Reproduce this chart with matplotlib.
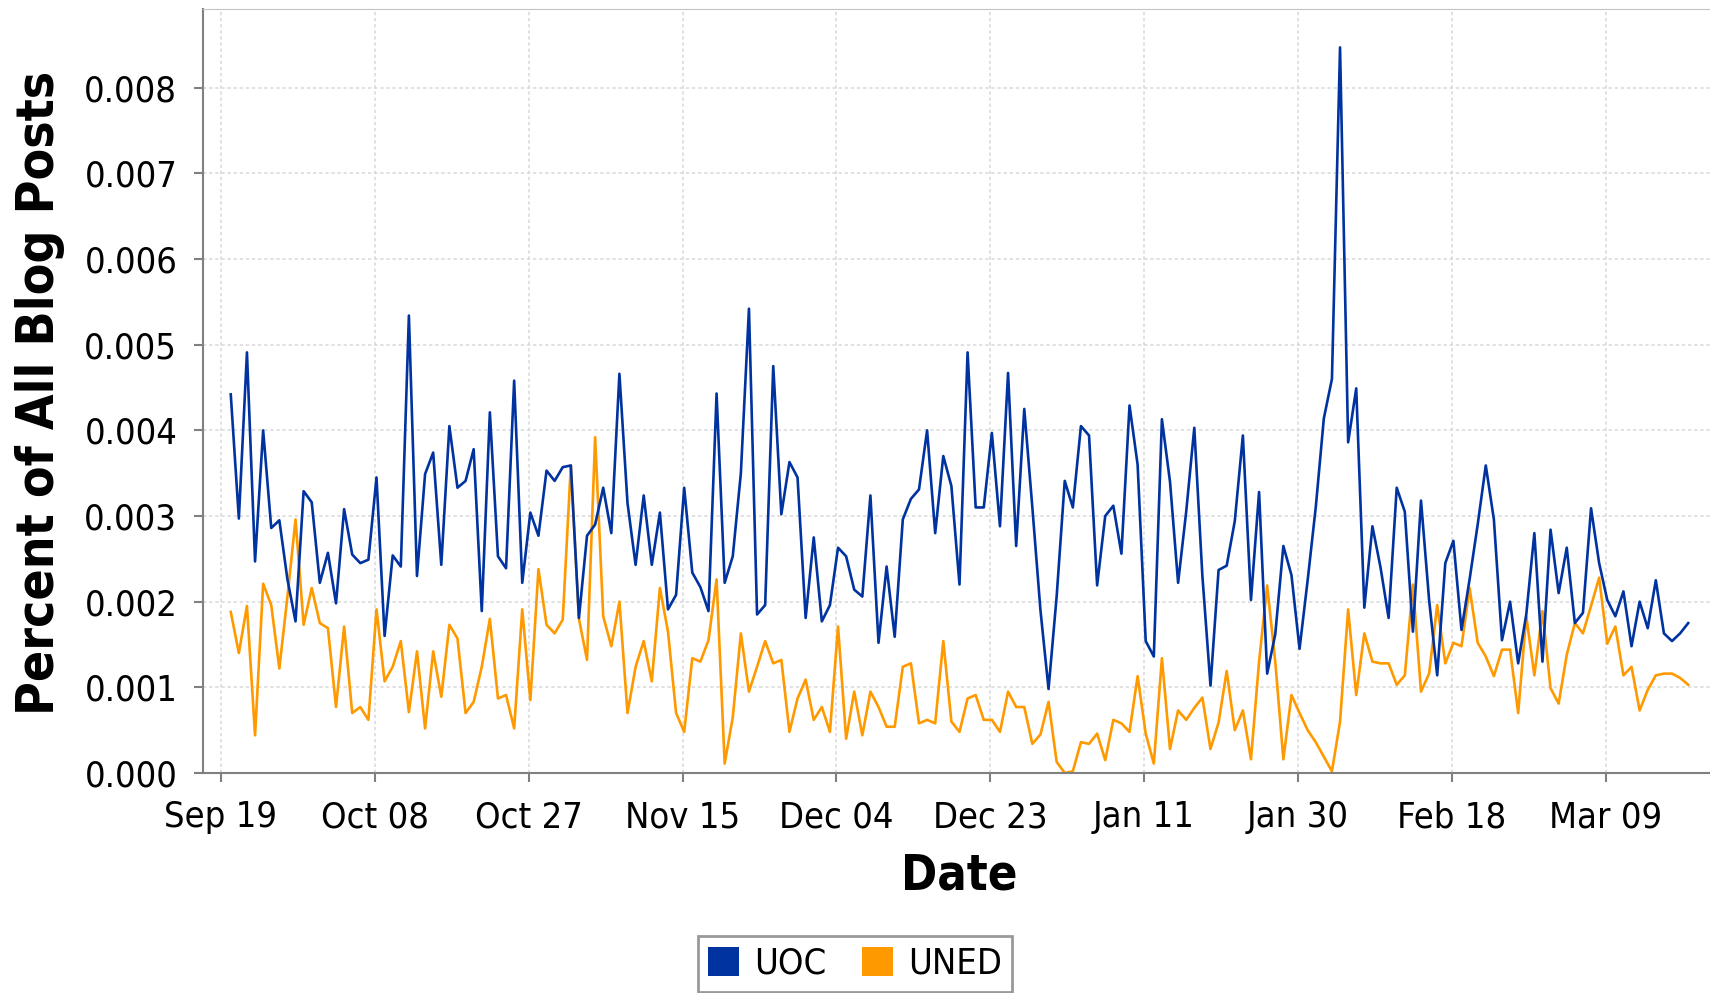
import os
import matplotlib
matplotlib.use('Agg')
import matplotlib.pyplot as plt
import matplotlib.dates as mdates
import matplotlib.patches as mpatches
from matplotlib import font_manager as fm
import numpy as np
import pandas as pd

# daily values, in units of 0.001 (percent of all blog posts)
uoc = [4.42, 2.97, 4.91, 2.47, 4.00, 2.86, 2.95, 2.26, 1.77, 3.29, 3.16, 2.22, 2.57, 1.98, 3.08, 2.55,
       2.45, 2.49, 3.45, 1.60, 2.54, 2.41,
       5.34, 2.30, 3.49, 3.74, 2.43, 4.05, 3.33, 3.41, 3.78, 1.89, 4.21, 2.53, 2.39, 4.58, 2.22, 3.04,
       2.77, 3.53, 3.41, 3.57, 3.59, 1.81, 2.77,
       2.90, 3.33, 2.80, 4.66, 3.15, 2.43, 3.24, 2.43, 3.04, 1.91, 2.08, 3.33, 2.34, 2.17, 1.89, 4.43,
       2.22, 2.53, 3.50, 5.42, 1.85, 1.96, 4.75,
       3.02, 3.63, 3.45, 1.81, 2.75, 1.77, 1.96, 2.63, 2.53, 2.14, 2.06, 3.24, 1.52, 2.41, 1.59, 2.96,
       3.20, 3.31, 4.00, 2.80, 3.70, 3.35, 2.20, 4.91,
       3.10, 3.10, 3.97, 2.88, 4.67, 2.65, 4.25, 3.10, 1.90, 0.98, 2.06, 3.41, 3.10, 4.05, 3.94, 2.19,
       3.00, 3.12, 2.56, 4.29, 3.60, 1.54, 1.36, 4.13,
       3.40, 2.22, 3.05, 4.03, 2.30, 1.02, 2.37, 2.42, 2.94, 3.94, 2.02, 3.28, 1.16, 1.62, 2.65, 2.31,
       1.45, 2.25, 3.10, 4.14, 4.60, 8.47, 3.86, 4.49,
       1.93, 2.88, 2.40, 1.81, 3.33, 3.05, 1.65, 3.18, 2.02, 1.14, 2.45, 2.71, 1.67, 2.26, 2.90, 3.59,
       2.96, 1.55, 2.00, 1.28, 1.85, 2.80, 1.30,
       2.84, 2.10, 2.63, 1.75, 1.87, 3.09, 2.45, 2.02, 1.83, 2.12, 1.48, 2.00, 1.69, 2.25, 1.63, 1.54,
       1.63, 1.75]

uned = [1.88, 1.40, 1.95, 0.44, 2.21, 1.96, 1.22, 2.06, 2.96, 1.73, 2.16, 1.75, 1.69, 0.77, 1.71, 0.70,
        0.77, 0.62, 1.91, 1.07, 1.24, 1.54,
        0.71, 1.42, 0.52, 1.42, 0.89, 1.73, 1.57, 0.70, 0.83, 1.24, 1.80, 0.87, 0.91, 0.52, 1.91, 0.85,
        2.38, 1.73, 1.63, 1.79, 3.59, 1.80, 1.32,
        3.92, 1.83, 1.48, 2.00, 0.70, 1.24, 1.54, 1.07, 2.16, 1.65, 0.70, 0.48, 1.34, 1.30, 1.55, 2.26,
        0.11, 0.65, 1.63, 0.95, 1.24, 1.54, 1.28,
        1.32, 0.48, 0.87, 1.09, 0.62, 0.77, 0.48, 1.71, 0.40, 0.95, 0.44, 0.95, 0.77, 0.54, 0.54, 1.24,
        1.28, 0.58, 0.62, 0.58, 1.54, 0.60, 0.48, 0.87,
        0.91, 0.62, 0.62, 0.48, 0.95, 0.77, 0.77, 0.34, 0.45, 0.83, 0.13, 0.00, 0.02, 0.36, 0.34, 0.46,
        0.15, 0.62, 0.58, 0.48, 1.13, 0.46, 0.11, 1.34,
        0.28, 0.73, 0.62, 0.76, 0.88, 0.28, 0.59, 1.19, 0.50, 0.73, 0.16, 1.30, 2.19, 1.30, 0.16, 0.91,
        0.70, 0.50, 0.36, 0.19, 0.02, 0.60, 1.91, 0.91,
        1.63, 1.30, 1.28, 1.28, 1.03, 1.14, 2.20, 0.95, 1.16, 1.96, 1.28, 1.52, 1.48, 2.16, 1.52, 1.36,
        1.13, 1.44, 1.44, 0.70, 1.83, 1.14, 1.89,
        0.99, 0.81, 1.38, 1.75, 1.63, 1.95, 2.28, 1.51, 1.71, 1.14, 1.24, 0.73, 0.97, 1.14, 1.16, 1.16,
        1.11, 1.03]

series_names = ['UOC', 'UNED']
series_colors = ['#0033a0', '#ff9900']
first_day = '2008-09-20 05:00'
tick_start = '2008-09-19'
y_ticks = [0.000, 0.001, 0.002, 0.003, 0.004, 0.005, 0.006, 0.007, 0.008]

dates = pd.date_range(first_day, periods=len(uoc), freq='D')
tick_dates = pd.date_range(tick_start, periods=10, freq='19D')
uoc = np.array(uoc) / 1000.0
uned = np.array(uned) / 1000.0


def font_file(names):
    for f in fm.fontManager.ttflist:
        if os.path.basename(f.fname) in names:
            return f.fname
    return None


reg_file = font_file(['DejaVuSansCondensed.ttf'])
bold_file = font_file(['DejaVuSansCondensed-Bold.ttf'])
if reg_file and bold_file:
    fp_tick = fm.FontProperties(fname=reg_file, size=26)
    fp_ylab = fm.FontProperties(fname=bold_file, size=37)
    fp_xlab = fm.FontProperties(fname=bold_file, size=35)
else:
    fp_tick = fm.FontProperties(family='DejaVu Sans', size=23)
    fp_ylab = fm.FontProperties(family='DejaVu Sans', weight='bold', size=33)
    fp_xlab = fm.FontProperties(family='DejaVu Sans', weight='bold', size=32)

W, H = 1710, 993
fig = plt.figure(figsize=(W / 100, H / 100), dpi=100)
ax = fig.add_axes([203 / W, (H - 773) / H, (W - 203) / W, (773 - 9.3) / H])

ax.plot(dates, uoc, color=series_colors[0], lw=1.9, zorder=3, label=series_names[0])
ax.plot(dates, uned, color=series_colors[1], lw=1.9, zorder=2, label=series_names[1])

t0 = mdates.date2num(pd.Timestamp(tick_start))
ax.set_xlim(t0 - 2.22, t0 + 183.9)
ax.set_ylim(0, 0.008915)

ax.set_xticks(tick_dates)
ax.set_xticklabels([d.strftime('%b %d') for d in tick_dates])
ax.set_yticks(y_ticks)
ax.set_yticklabels(['%.3f' % v for v in y_ticks])
for lbl in ax.get_xticklabels() + ax.get_yticklabels():
    lbl.set_fontproperties(fp_tick)

ax.set_axisbelow(True)
ax.grid(True, color='#d9d9d9', linestyle=(0, (2.2, 1.8)), linewidth=1.1)
ax.tick_params(axis='both', direction='out', length=6.5, width=1.5, color='#808080')
ax.tick_params(axis='y', pad=12)
ax.tick_params(axis='x', pad=13)

for side in ['left', 'bottom']:
    ax.spines[side].set_color('#808080')
    ax.spines[side].set_linewidth(1.5)
ax.spines['top'].set_color('#c4c4c4')
ax.spines['top'].set_linewidth(0.8)
ax.spines['right'].set_visible(False)

fig.text(54.3 / W, 1 - 392.6 / H, 'Percent of All Blog Posts', fontproperties=fp_ylab,
         rotation=90, rotation_mode='anchor', ha='center', va='baseline')
fig.text(959 / W, 1 - 889 / H, 'Date', fontproperties=fp_xlab, ha='center', va='baseline')

handles = [mpatches.Patch(facecolor=c, edgecolor='none') for c in series_colors]
leg = fig.legend(handles, series_names, loc='lower center', bbox_to_anchor=(0.5, 0.0015), ncol=2,
                 prop=fp_tick, frameon=True, fancybox=False, shadow=False,
                 handlelength=0.86, handleheight=0.86, handletextpad=0.4,
                 columnspacing=1.0, borderpad=0.3, borderaxespad=0.0)
leg.get_frame().set_edgecolor('#808080')
leg.get_frame().set_linewidth(2.0)

fig.savefig('out.png', dpi=100)
